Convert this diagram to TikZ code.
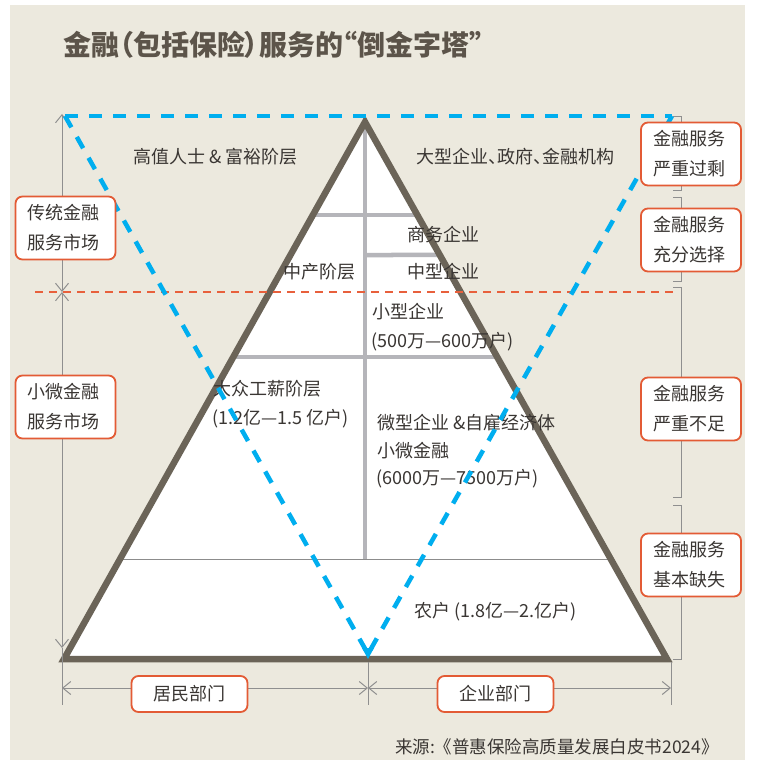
\documentclass[tikz,border=0pt]{standalone}
\usepackage{fontspec}
\setmainfont{Noto Sans CJK SC}[RawFeature=+palt]
\newfontfamily\plainfont{Noto Sans CJK SC}
\usetikzlibrary{arrows.meta,calc}
\definecolor{bgc}{HTML}{ECE9DE}
\definecolor{pyr}{HTML}{6B6458}
\definecolor{gline}{HTML}{B5B5BA}
\definecolor{thinl}{HTML}{8C8C8C}
\definecolor{blu}{HTML}{00AEEF}
\definecolor{orng}{HTML}{E35B35}
\definecolor{redd}{HTML}{E8603C}
\definecolor{dimc}{HTML}{8F8F8F}
\definecolor{txt}{HTML}{3A3633}
\definecolor{ttl}{HTML}{5C544A}
\begin{document}
\begin{tikzpicture}[x=1pt,y=-1pt,
  lbl/.style={font=\plainfont\fontsize{18}{29}\selectfont, text=txt, inner sep=0pt, anchor=west},
  obox/.style={draw=orng, line width=1.8pt, fill=white, rounded corners=7pt, text=txt,
    font=\plainfont\fontsize{18}{30}\selectfont, align=left, inner xsep=12pt, inner ysep=0pt,
    text width=76pt, minimum height=63pt},
  bbox/.style={draw=orng, line width=1.8pt, fill=white, rounded corners=7pt, text=txt,
    font=\plainfont\fontsize{18}{20}\selectfont, align=center, inner sep=0pt,
    minimum width=116pt, minimum height=36pt},
  dimline/.style={draw=dimc, line width=1pt},
  dimarr/.style={draw=dimc, line width=1pt, {Straight Barb[length=8pt,width=13pt]}-{Straight Barb[length=8pt,width=13pt]}},
  brk/.style={draw=dimc, line width=1pt},
  grayl/.style={draw=gline, line width=4.5pt},
  bluedash/.style={draw=blu, line width=4.5pt, dash pattern=on 13pt off 11pt},
  reddash/.style={draw=redd, line width=1.8pt, dash pattern=on 8pt off 6pt}
]
% background
\useasboundingbox (0,0) rectangle (757,762);
\fill[white] (0,0) rectangle (757,762);
\fill[bgc] (10,5) rectangle (745,760);

% key coordinates
\coordinate (A) at (365,122);
\coordinate (BL) at (64,659);
\coordinate (BR) at (667,659);

% pyramid fill
\fill[white] (A) -- (BL) -- (BR) -- cycle;

% internal lines
\coordinate (c1) at (365,560);
\coordinate (l215) at ($(A)!{(215-122)/537}!(BL)$);
\coordinate (r215) at ($(A)!{(215-122)/537}!(BR)$);
\coordinate (m255) at (365,255);
\coordinate (r255) at ($(A)!{(255-122)/537}!(BR)$);
\coordinate (l357) at ($(A)!{(357-122)/537}!(BL)$);
\coordinate (r357) at ($(A)!{(357-122)/537}!(BR)$);
\coordinate (l560) at ($(A)!{(560-122)/537}!(BL)$);
\coordinate (r560) at ($(A)!{(560-122)/537}!(BR)$);
\draw[grayl] (A) -- (c1);
\draw[grayl] (l215) -- (r215);
\draw[grayl] (m255) -- (r255);
\draw[grayl] (l357) -- (r357);
\draw[draw=thinl, line width=1pt] (l560) -- (r560);

% pyramid outline
\draw[draw=pyr, line width=6.5pt, line join=miter] (A) -- (BL) -- (BR) -- cycle;

% left dimension
\coordinate (LT) at (62,114);
\coordinate (LM) at (62,292);
\coordinate (LB) at (62,648);
\coordinate (LE) at (62,705);
\draw[dimline] (LB) -- (LE);
\draw[dimarr] (LT) -- (LM);
\draw[dimarr] (LM) -- (LB);

% bottom dimension
\coordinate (BE2t) at (368,662);
\coordinate (BE2b) at (368,705);
\coordinate (BE3t) at (671,662);
\coordinate (BE3b) at (671,705);
\draw[dimline] (BE2t) -- (BE2b);
\draw[dimline] (BE3t) -- (BE3b);
\coordinate (H1) at (62,688);
\coordinate (H2) at (368,688);
\coordinate (H3) at (671,688);
\draw[dimarr] (H1) -- (H2);
\draw[dimarr] (H2) -- (H3);

% right brackets
\draw[brk] (673,117) -- (681,117) -- (681,190) -- (673,190);
\draw[brk] (673,197) -- (681,197) -- (681,281) -- (673,281);
\draw[brk] (673,287) -- (681,287) -- (681,497) -- (673,497);
\draw[brk] (673,505) -- (681,505) -- (681,659) -- (673,659);

% red dashed divider
\coordinate (RD1) at (35,292);
\coordinate (RD2) at (678,292);
\draw[reddash] (RD1) -- (RD2);

% labels inside pyramid
\node[lbl] (t1) at (133,157) {高值人士 \& 富裕阶层};
\node[lbl, font=\fontsize{18}{29}\selectfont] (t2) at (416,157) {大型企业、政府、金融机构};
\node[lbl] (t3) at (407,235) {商务企业};
\node[lbl] (t4) at (283,272) {中产阶层};
\node[lbl] (t5) at (407,272) {中型企业};
\node[lbl] (t6) at (372,312) {小型企业};
\node[lbl] (t7) at (371,342) {(500万—600万户)};
\node[lbl] (t8) at (213,389) {大众工薪阶层};
\node[lbl] (t9) at (212,419) {(1.2亿—1.5 亿户)};
\node[lbl] (t10) at (377,423) {微型企业 \&自雇经济体};
\node[lbl] (t11) at (377,451) {小微金融};
\node[lbl] (t12) at (376,479) {(6000万—7500万户)};
\node[lbl] (t13) at (414,612) {农户 (1.8亿—2.亿户)};

% blue inverted triangle
\coordinate (V1) at (65,116);
\coordinate (V2) at (672,116);
\coordinate (V3) at (368,654);
\draw[bluedash] (V1) -- (V2);
\draw[bluedash] (V1) -- (V3);
\draw[bluedash] (V2) -- (V3);
\fill[blu] (362,648) -- (374,648) -- (368,659) -- cycle;

% boxes
\node[obox] (lb1) at (65.5,228) {传统金融\\服务市场};
\node[obox] (lb2) at (65.5,407) {小微金融\\服务市场};
\node[obox] (rb1) at (691,154) {金融服务\\严重过剩};
\node[obox] (rb2) at (691,240) {金融服务\\充分选择};
\node[obox] (rb3) at (691,409) {金融服务\\严重不足};
\node[obox] (rb4) at (691,565) {金融服务\\基本缺失};
\node[bbox] (bb1) at (189.5,694) {居民部门};
\node[bbox] (bb2) at (495.5,694) {企业部门};

% title and source
\node[anchor=west, inner sep=0pt, text=ttl, font=\fontsize{28}{30}\selectfont\bfseries] (title) at (63,45) {金融（包括保险）服务的“倒金字塔”};
\node[anchor=east, inner sep=0pt, text=txt, font=\plainfont\fontsize{17.5}{20}\selectfont] (src) at (719,747) {来源:《普惠保险高质量发展白皮书2024》};
\end{tikzpicture}
\end{document}
